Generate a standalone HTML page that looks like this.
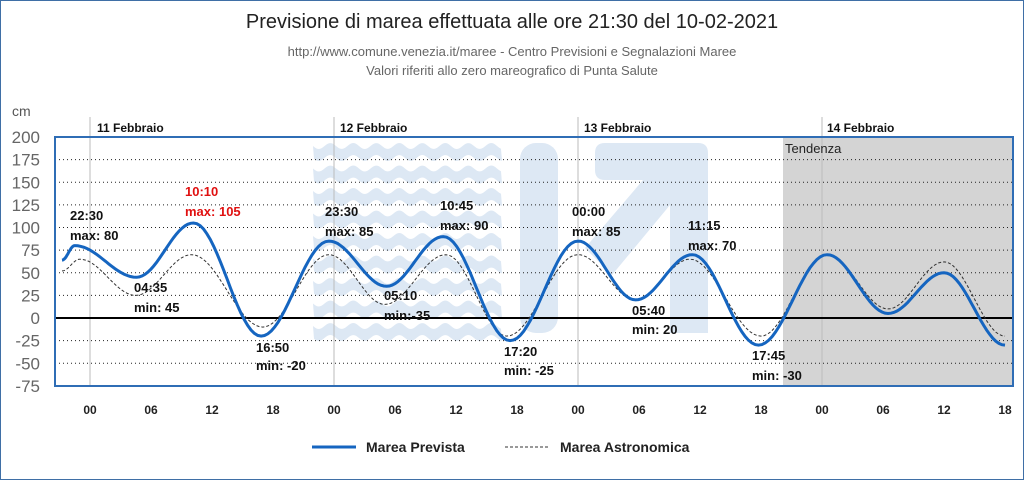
<!DOCTYPE html>
<html><head><meta charset="utf-8"><style>
body{margin:0;background:#fff;}
svg{display:block;font-family:"Liberation Sans","DejaVu Sans",sans-serif;}
</style></head><body>
<svg id="s" width="1024" height="480" xmlns="http://www.w3.org/2000/svg">
<rect x="0.5" y="0.5" width="1023" height="479" fill="#fff" stroke="#3f6fa6" stroke-width="1"/>
<text x="512" y="28" font-size="20" text-anchor="middle" fill="#222">Previsione di marea effettuata alle ore 21:30 del 10-02-2021</text>
<text x="512" y="56" font-size="13" text-anchor="middle" fill="#666">http://www.comune.venezia.it/maree - Centro Previsioni e Segnalazioni Maree</text>
<text x="512" y="75" font-size="13" text-anchor="middle" fill="#666">Valori riferiti allo zero mareografico di Punta Salute</text>
<text x="12" y="116" font-size="14" fill="#555">cm</text>
<rect x="783" y="137" width="230" height="249" fill="#d4d4d4"/>
<g id="wm" fill="#dde8f4">
<rect x="520" y="143" width="38" height="190" rx="16"/>
<path d="M605 143 H698 Q708 143 708 153 V333 H670 V205 L612 275 L585 248 L643 180 H605 Q595 180 595 170 V153 Q595 143 605 143 Z"/>
</g>
<g id="grid"></g>
<g id="lines"></g>
<rect x="55" y="137" width="958" height="249" fill="none" stroke="#2f6db5" stroke-width="2"/>
<g font-size="13" font-weight="bold" fill="#111">
<text x="70" y="220">22:30</text><text x="70" y="240">max: 80</text>
<text x="134" y="292">04:35</text><text x="134" y="312">min: 45</text>
<text x="185" y="196" fill="#e01010">10:10</text><text x="185" y="216" fill="#e01010">max: 105</text>
<text x="256" y="352">16:50</text><text x="256" y="370">min: -20</text>
<text x="325" y="216">23:30</text><text x="325" y="236">max: 85</text>
<text x="384" y="300">05:10</text><text x="384" y="320">min:-35</text>
<text x="440" y="210">10:45</text><text x="440" y="230">max: 90</text>
<text x="504" y="356">17:20</text><text x="504" y="375">min: -25</text>
<text x="572" y="216">00:00</text><text x="572" y="236">max: 85</text>
<text x="632" y="315">05:40</text><text x="632" y="334">min: 20</text>
<text x="688" y="230">11:15</text><text x="688" y="250">max: 70</text>
<text x="752" y="360">17:45</text><text x="752" y="380">min: -30</text>
</g>
<text x="785" y="153" font-size="13" fill="#222">Tendenza</text>
<g font-size="12" font-weight="bold" fill="#111">
<text x="97" y="132">11 Febbraio</text><text x="340" y="132">12 Febbraio</text>
<text x="584" y="132">13 Febbraio</text><text x="827" y="132">14 Febbraio</text>
</g>
<g id="lbl"></g>
<line x1="312" y1="447" x2="356" y2="447" stroke="#1565c0" stroke-width="3"/>
<text x="366" y="452" font-size="14" font-weight="bold" fill="#222">Marea Prevista</text>
<line x1="505" y1="447" x2="549" y2="447" stroke="#333" stroke-width="1" stroke-dasharray="3,2"/>
<text x="560" y="452" font-size="14" font-weight="bold" fill="#222">Marea Astronomica</text>
</svg>
<script>
var NS="http://www.w3.org/2000/svg";
function el(t,a,p){var e=document.createElementNS(NS,t);for(var k in a)e.setAttribute(k,a[k]);document.getElementById(p).appendChild(e);return e;}
// waves
for(var r=0;r<9;r++){var y0=146+r*22.5,d="";
 for(var x=313;x<=502;x+=2){d+=(d?"L":"M")+x+" "+(y0+3*Math.sin((x-313)/23*2*Math.PI)).toFixed(1);}
 for(var x=502;x>=313;x-=2){d+="L"+x+" "+(y0+12+3*Math.sin((x-313)/23*2*Math.PI)).toFixed(1);}
 el("path",{d:d+"Z"},"wm");}
function Y(v){return 318-v*0.905;}
function X(h){return 90+h*61/6;}
for(var v=-75;v<=200;v+=25){
 if(v!=200&&v!=0)el("line",{x1:55,x2:1013,y1:Y(v),y2:Y(v),stroke:"#222","stroke-width":1,"stroke-dasharray":"1,3"},"grid");
 var t=el("text",{x:40,y:Y(v)+6,"font-size":17,"text-anchor":"end",fill:"#666"},"lbl");t.textContent=v;
}
[0,24,48,72].forEach(function(h){el("line",{x1:X(h),x2:X(h),y1:117,y2:386,stroke:"#bbb","stroke-width":1},"grid");});
el("line",{x1:55,x2:1013,y1:Y(0),y2:Y(0),stroke:"#000","stroke-width":2},"grid");
var tl=["00","06","12","18"];
for(var h=0;h<=90;h+=6){var t=el("text",{x:X(h),y:414,"font-size":12,"font-weight":"bold","text-anchor":"middle",fill:"#222"},"lbl");t.textContent=tl[(h/6)%4];}
function path(pts){var d="";for(var i=0;i<pts.length-1;i++){var a=pts[i],b=pts[i+1];for(var s=0;s<=20;s++){var f=s/20,h=a[0]+(b[0]-a[0])*f,v=a[1]+(b[1]-a[1])*(1-Math.cos(Math.PI*f))/2;d+=(d?"L":"M")+X(h).toFixed(1)+" "+Y(v).toFixed(1);}}return d;}
var P=[[-2.75,64],[-1.5,80],[4.58,45],[10.17,105],[16.83,-20],[23.5,85],[29.17,35],[34.75,90],[41.33,-25],[48,85],[53.67,20],[59.25,70],[65.75,-30],[72.5,70],[78.5,5],[84,50],[90,-30]];
var A=[[-2.75,52],[-1,65],[4.5,25],[10,70],[17,-10],[23.5,70],[29,15],[35,70],[41,-20],[48,70],[53.7,20],[59,65],[66,-20],[72.5,70],[78.5,10],[84,62],[90,-20]];
el("path",{d:path(A),fill:"none",stroke:"#333","stroke-width":1,"stroke-dasharray":"3,2"},"lines");
el("path",{d:path(P),fill:"none",stroke:"#1565c0","stroke-width":3},"lines");
</script>
</body></html>
